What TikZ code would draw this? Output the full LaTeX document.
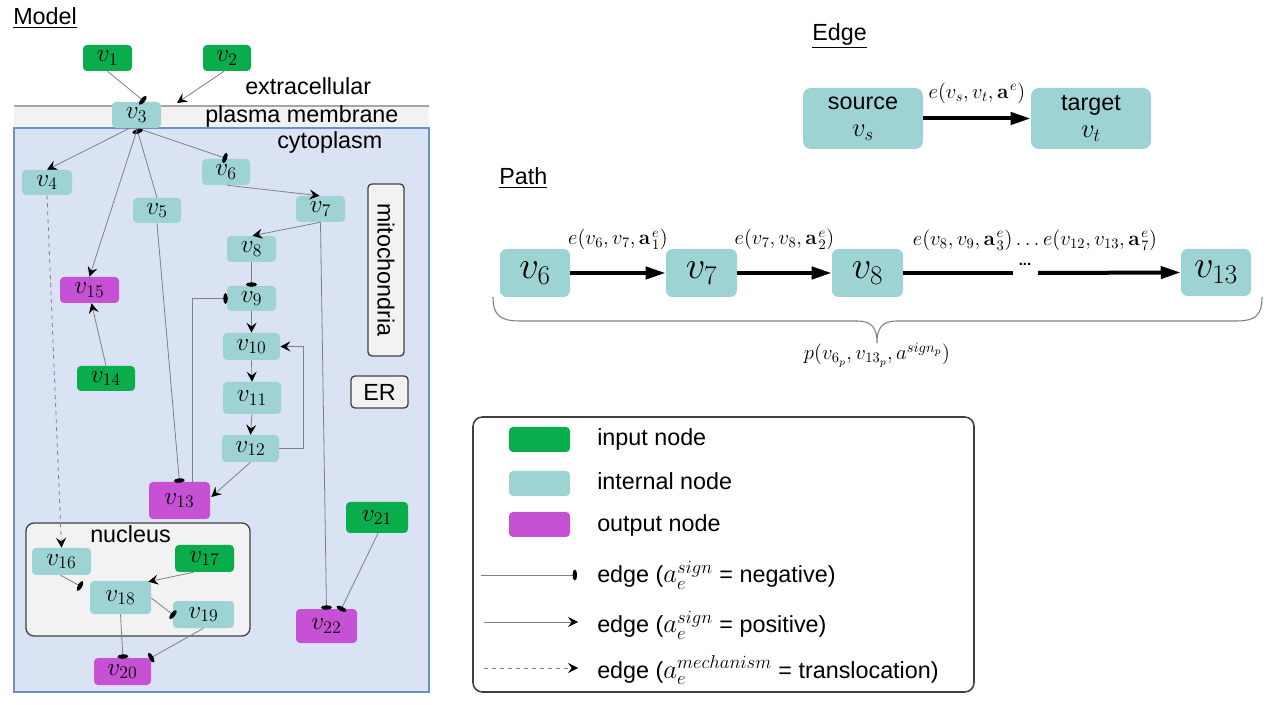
\RequirePackage{fix-cm}
\documentclass[tikz,border=0pt]{standalone}
\usepackage[no-math]{fontspec}
\setmainfont{Liberation Sans}
\usetikzlibrary{arrows.meta,calc}
\definecolor{cin}{HTML}{0AAD4C}
\definecolor{cint}{HTML}{9DD3D3}
\definecolor{cout}{HTML}{C651D4}
\definecolor{cyto}{HTML}{DAE3F3}
\definecolor{cytob}{HTML}{6F8FC9}
\definecolor{memb}{HTML}{F2F2F2}
\definecolor{lgray}{HTML}{808080}
\newcommand\ba{\mathbf{a}\mkern1.5mu}
\tikzset{
  nd/.style={rectangle, rounded corners=3pt, inner sep=0pt, font=\fontsize{19}{22}\selectfont},
  ninp/.style={nd, fill=cin},
  nint/.style={nd, fill=cint},
  nout/.style={nd, fill=cout},
  pbox/.style={nint, rounded corners=5pt, font=\fontsize{29}{32}\selectfont},
  boxsz/.style 2 args={minimum width=#1*0.75pt, minimum height=#2*0.75pt},
  edgeline/.style={draw=lgray, line width=0.6pt},
  posedge/.style={edgeline, -{Stealth[length=7.5pt,width=7.5pt,inset=2.8pt,color=black]}},
  negedge/.style={edgeline, -{Ellipse[length=3.3pt,width=8pt,color=black]}},
  transedge/.style={posedge, dashed},
  bigarrow/.style={line width=3pt, -{Triangle[length=15pt,width=9pt]}},
  lbl/.style={font=\fontsize{17.5}{21}\selectfont, inner sep=0pt},
  elab/.style={font=\fontsize{15.5}{18}\selectfont, inner sep=0pt},
  grayframe/.style={draw=black!75, fill=memb, line width=1pt, rounded corners=3pt},
}
\begin{document}
\begin{tikzpicture}[x=0.75pt,y=-0.75pt]
\useasboundingbox (0,0) rectangle (1271,705);
% ---------- compartments ----------
\fill[memb] (14,106) rectangle (429,128);
\draw[black!35, line width=0.8pt] (14,106) -- (429,106);
\draw[fill=cyto, draw=cytob, line width=1pt] (14,128) rectangle (429,692);
\draw[grayframe, rounded corners=6pt] (26,523) rectangle (250,636);
\node[grayframe, rotate=-90, lbl, minimum width=172*0.75pt, minimum height=36*0.75pt] (mito) at (386,270) {mitochondria};
\node[grayframe, lbl, minimum width=57*0.75pt, minimum height=32*0.75pt] (er) at (379.5,392) {ER};
\node[lbl, anchor=base west] (tmodel) at (13,25) {\underline{Model}};
\node[lbl, anchor=base west] (textra) at (245,95) {extracellular};
\node[lbl, anchor=base west] (tpm) at (205,123) {plasma membrane};
\node[lbl, anchor=base west] (tcyto) at (277,149) {cytoplasm};
\node[lbl, anchor=base west] (tnuc) at (90,543) {nucleus};
% ---------- model nodes ----------
\node[ninp, boxsz={49}{26}] (v1) at (107.5,58) {$v_1$};
\node[ninp, boxsz={48}{26}] (v2) at (227,58) {$v_2$};
\node[nint, boxsz={49}{26}] (v3) at (136.5,115) {$v_3$};
\node[nint, boxsz={50}{25}] (v4) at (47,182.5) {$v_4$};
\node[nint, boxsz={48}{25}] (v5) at (157,210.5) {$v_5$};
\node[nint, boxsz={48}{26}] (v6) at (226,172) {$v_6$};
\node[nint, boxsz={49}{26}] (v7) at (320.5,209) {$v_7$};
\node[nint, boxsz={49}{26}] (v8) at (251.5,249) {$v_8$};
\node[nint, boxsz={49}{25}] (v9) at (251.5,298.5) {$v_9$};
\node[nint, boxsz={57}{27}] (v10) at (251.5,346.5) {$v_{10}$};
\node[nint, boxsz={58}{32}] (v11) at (252,398) {$v_{11}$};
\node[nint, boxsz={57}{27}] (v12) at (250.5,448.5) {$v_{12}$};
\node[nout, boxsz={61}{37}] (v13) at (179.5,500.5) {$v_{13}$};
\node[ninp, boxsz={58}{25}] (v14) at (106,378.5) {$v_{14}$};
\node[nout, boxsz={59}{26}] (v15) at (89.5,290) {$v_{15}$};
\node[nint, boxsz={59}{27}] (v16) at (61.5,561.5) {$v_{16}$};
\node[ninp, boxsz={59}{27}] (v17) at (204.5,558.5) {$v_{17}$};
\node[nint, boxsz={61}{33}] (v18) at (120.5,597.5) {$v_{18}$};
\node[nint, boxsz={61}{27}] (v19) at (203.5,614.5) {$v_{19}$};
\node[nout, boxsz={57}{27}] (v20) at (122.5,671.5) {$v_{20}$};
\node[ninp, boxsz={62}{31}] (v21) at (377,517.5) {$v_{21}$};
\node[nout, boxsz={61}{34}] (v22) at (326.5,626) {$v_{22}$};
\coordinate (v2end) at (177,103);
\coordinate (v16end) at (82,587);
% ---------- model edges ----------
\draw[negedge] (v1.south) -- ($(v3.north)+(8,0)$);
\draw[posedge] ($(v2.south)+(-3,0)$) -- (v2end);
\draw[posedge] ($(v3.south)+(-7,0)$) -- (v4.north);
\draw[negedge] ($(v3.south)+(1,0)$) -- ($(v6.north)+(1,0)$);
\draw[negedge] (v5.north) -- ($(v3.south)+(0.5,1)$);
\draw[posedge] ($(v3.south)+(1,0)$) -- (v15.north);
\draw[posedge] ($(v6.south)+(1,0)$) -- ($(v7.north)+(-1,0)$);
\draw[posedge] (v7.south) -- ($(v8.north)+(1,0)$);
\draw[negedge] (v7.south) -- ($(v22.north)+(0,1)$);
\draw[negedge] (v8.south) -- ($(v9.north)+(0,1)$);
\draw[negedge] ($(v13.north)+(13,0)$) |- ($(v9.west)+(1,0)$);
\draw[negedge] (v5.south) -- ($(v13.north)+(0,1)$);
\draw[posedge] (v9.south) -- (v10.north);
\draw[posedge] (v10.south) -- (v11.north);
\draw[posedge] (v11.south) -- (v12.north);
\draw[posedge] (v12.east) -- ++(24,0) |- (v10.east);
\draw[posedge] (v12.south) -- ($(v13.east)+(1,-3.5)$);
\draw[posedge] (v14.north) -- ($(v15.south)+(2,0)$);
\draw[transedge] (v4.south) -- (v16.north);
\draw[negedge] ($(v16.south)+(-1,0)$) -- (v16end);
\draw[posedge] ($(v17.south)+(-11,0)$) -- ($(v18.north east)+(-3,1)$);
\draw[negedge] ($(v18.east)+(0,0.5)$) -- ($(v19.west)+(2,1.5)$);
\draw[negedge] (v18.south) -- ($(v20.north)+(0.5,1)$);
\draw[negedge] (v19.south) -- ($(v20.north east)+(-2,1)$);
\draw[negedge] ($(v21.south)+(1,0)$) -- ($(v22.north)+(14,2)$);
% ---------- Edge ----------
\node[lbl, anchor=base west] (tedge) at (812,41) {\underline{Edge}};
\node[nint, rounded corners=6pt, boxsz={120}{61}, align=center, font=\fontsize{17.5}{20}\selectfont] (src) at (863,118.5) {source\\{\fontsize{20}{20}\selectfont$v_s$}};
\node[nint, rounded corners=6pt, boxsz={120}{61}, align=center, font=\fontsize{17.5}{20}\selectfont] (tgt) at (1091,118.5) {target\\{\fontsize{20}{20}\selectfont$v_t$}};
\draw[bigarrow] (src.east) -- (tgt.west) node[elab, midway, yshift=19pt] (elabst) {$e(v_s, v_t, \ba^e)$};
% ---------- Path ----------
\node[lbl, anchor=base west] (tpath) at (499,185) {\underline{Path}};
\node[pbox, boxsz={70}{48}] (p6) at (535,273) {$v_6$};
\node[pbox, boxsz={71}{48}] (p7) at (701.5,273) {$v_7$};
\node[pbox, boxsz={71}{48}] (p8) at (867.5,273) {$v_8$};
\node[pbox, boxsz={70}{47}] (p13) at (1216,272.5) {$v_{13}$};
\draw[bigarrow] (p6.east) -- (p7.west) node[elab, midway, yshift=25pt] (e67) {$e(v_6, v_7, \ba_1^e)$};
\draw[bigarrow] (p7.east) -- (p8.west) node[elab, midway, yshift=25pt] (e78) {$e(v_7, v_8, \ba_2^e)$};
\coordinate (gapA) at (1013,273);
\coordinate (gapB) at (1038,273);
\draw[line width=3pt] (p8.east) -- (gapA);
\draw[bigarrow] (gapB) -- (p13.west);
\node[font=\bfseries\fontsize{11}{12}\selectfont, inner sep=0pt] (dots) at (1025,264) {...};
\node[elab] (e813) at (1035,240) {$e(v_8, v_9, \ba_3^e)\ldots e(v_{12}, v_{13}, \ba_7^e)$};
\draw[lgray, line width=0.8pt] (493,297) .. controls (493,315) and (500,321) .. (520,321) -- (857,321) .. controls (872,321) and (877,328) .. (877,343) .. controls (877,328) and (882,321) .. (897,321) -- (1236,321) .. controls (1256,321) and (1262,315) .. (1262,297);
\node[elab] (plab) at (877,355) {$p(v_{6_p}, v_{13_p}, a^{sign_p})$};
% ---------- Legend ----------
\draw[draw=black!75, line width=1.2pt, rounded corners=7pt] (473,417) rectangle (974,692);
\node[ninp, boxsz={61}{25}] (lin) at (539.5,439.5) {};
\node[nint, boxsz={61}{25}] (lint) at (539.5,483.5) {};
\node[nout, boxsz={61}{25}] (lout) at (539.5,524.5) {};
\node[lbl, anchor=base west] (tin) at (597,446) {input node};
\node[lbl, anchor=base west] (tint) at (597,490) {internal node};
\node[lbl, anchor=base west] (tout) at (597,532) {output node};
\coordinate (la1) at (481,575);
\coordinate (lb1) at (577,575);
\coordinate (la2) at (484,622);
\coordinate (lb2) at (578,622);
\coordinate (la3) at (484,668);
\coordinate (lb3) at (578,668);
\draw[negedge] (la1) -- (lb1);
\draw[posedge] (la2) -- (lb2);
\draw[transedge] (la3) -- (lb3);
\node[lbl, anchor=base west] (tneg) at (597,583) {edge ({\fontsize{20}{20}\selectfont$a_e^{sign}$} = negative)};
\node[lbl, anchor=base west] (tpos) at (597,633) {edge ({\fontsize{20}{20}\selectfont$a_e^{sign}$} = positive)};
\node[lbl, anchor=base west] (ttrans) at (597,678) {edge ({\fontsize{20}{20}\selectfont$a_e^{mechanism}$} = translocation)};
\end{tikzpicture}
\end{document}
